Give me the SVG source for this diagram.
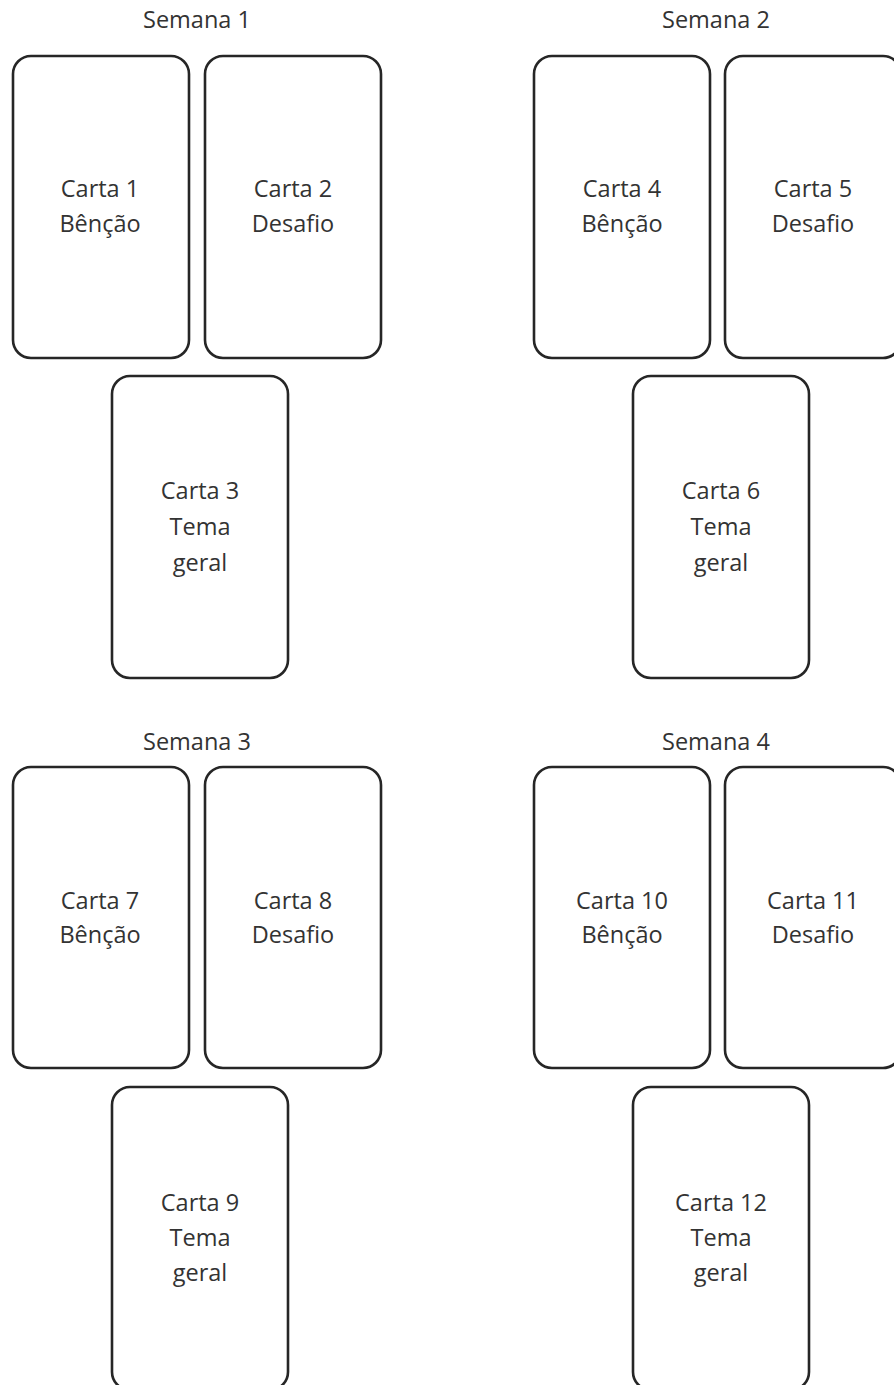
<svg xmlns="http://www.w3.org/2000/svg" width="894" height="1385" viewBox="0 0 894 1385">
<style>
.card{fill:#ffffff;stroke:#262626;stroke-width:2.6}
.t{font-family:"Open Sans",Lato,"Liberation Sans",sans-serif;font-size:23.5px;fill:#333333;text-anchor:middle}
</style>
<rect width="894" height="1385" fill="#ffffff"/>
<g id="week1">
<text class="t" x="197" y="28">Semana 1</text>
<g id="carta1"><rect class="card" x="13" y="56" width="176" height="302" rx="18"/><text class="t" x="100" y="197">Carta 1</text><text class="t" x="100" y="232">Bênção</text></g>
<g id="carta2"><rect class="card" x="205" y="56" width="176" height="302" rx="18"/><text class="t" x="293" y="197">Carta 2</text><text class="t" x="293" y="232">Desafio</text></g>
<g id="carta3"><rect class="card" x="112" y="376" width="176" height="302" rx="18"/><text class="t" x="200" y="499">Carta 3</text><text class="t" x="200" y="535">Tema</text><text class="t" x="200" y="571">geral</text></g>
</g>
<g id="week2">
<text class="t" x="716" y="28">Semana 2</text>
<g id="carta4"><rect class="card" x="534" y="56" width="176" height="302" rx="18"/><text class="t" x="622" y="197">Carta 4</text><text class="t" x="622" y="232">Bênção</text></g>
<g id="carta5"><rect class="card" x="725" y="56" width="176" height="302" rx="18"/><text class="t" x="813" y="197">Carta 5</text><text class="t" x="813" y="232">Desafio</text></g>
<g id="carta6"><rect class="card" x="633" y="376" width="176" height="302" rx="18"/><text class="t" x="721" y="499">Carta 6</text><text class="t" x="721" y="535">Tema</text><text class="t" x="721" y="571">geral</text></g>
</g>
<g id="week3">
<text class="t" x="197" y="750">Semana 3</text>
<g id="carta7"><rect class="card" x="13" y="767" width="176" height="301" rx="18"/><text class="t" x="100" y="909">Carta 7</text><text class="t" x="100" y="943">Bênção</text></g>
<g id="carta8"><rect class="card" x="205" y="767" width="176" height="301" rx="18"/><text class="t" x="293" y="909">Carta 8</text><text class="t" x="293" y="943">Desafio</text></g>
<g id="carta9"><rect class="card" x="112" y="1087" width="176" height="303" rx="18"/><text class="t" x="200" y="1211">Carta 9</text><text class="t" x="200" y="1246">Tema</text><text class="t" x="200" y="1281">geral</text></g>
</g>
<g id="week4">
<text class="t" x="716" y="750">Semana 4</text>
<g id="carta10"><rect class="card" x="534" y="767" width="176" height="301" rx="18"/><text class="t" x="622" y="909">Carta 10</text><text class="t" x="622" y="943">Bênção</text></g>
<g id="carta11"><rect class="card" x="725" y="767" width="176" height="301" rx="18"/><text class="t" x="813" y="909">Carta 11</text><text class="t" x="813" y="943">Desafio</text></g>
<g id="carta12"><rect class="card" x="633" y="1087" width="176" height="303" rx="18"/><text class="t" x="721" y="1211">Carta 12</text><text class="t" x="721" y="1246">Tema</text><text class="t" x="721" y="1281">geral</text></g>
</g>
<g id="connectors"/>
</svg>
